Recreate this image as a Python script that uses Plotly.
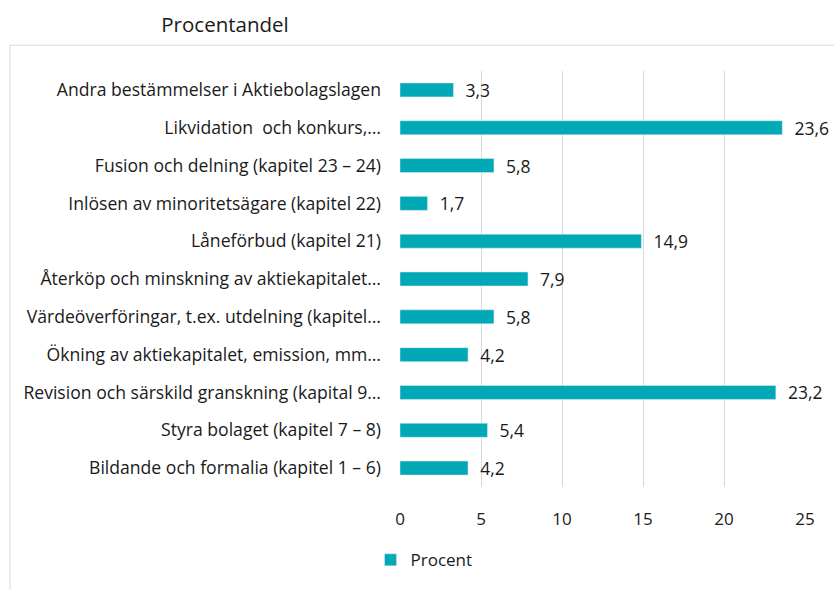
import plotly.graph_objects as go

categories = [
    "Bildande och formalia (kapitel 1 – 6)",
    "Styra bolaget (kapitel 7 – 8)",
    "Revision och särskild granskning (kapital 9…",
    "Ökning av aktiekapitalet, emission, mm…",
    "Värdeöverföringar, t.ex. utdelning (kapitel…",
    "Återköp och minskning av aktiekapitalet…",
    "Låneförbud (kapitel 21)",
    "Inlösen av minoritetsägare (kapitel 22)",
    "Fusion och delning (kapitel 23 – 24)",
    "Likvidation  och konkurs,…",
    "Andra bestämmelser i Aktiebolagslagen",
]
values = [4.2, 5.4, 23.2, 4.2, 5.8, 7.9, 14.9, 1.7, 5.8, 23.6, 3.3]
x_ticks = [0, 5, 10, 15, 20, 25]
series_name = "Procent"
title_text = "Procentandel"

labels = ["\u00a0\u00a0" + f"{v:.1f}".replace(".", ",") for v in values]

FONT = "Open Sans"
TXT = "#1a1a1a"
GRID = "#d9d9d9"
BAR = "#00A9B5"

fig = go.Figure(go.Bar(
    y=categories, x=values, orientation="h", name=series_name,
    marker=dict(color=BAR), width=0.37,
    text=labels, textposition="outside", cliponaxis=False,
    constraintext="none",
    textfont=dict(family=FONT, size=17.5, color=TXT),
    showlegend=True,
))

L, R, T, B = 400, 29, 71, 99
W, H = 834, 590
pw, ph = W - L - R, H - T - B

def px(x):
    return (x - L) / pw

def py(y):
    return (H - B - y) / ph

fig.update_layout(
    width=W, height=H,
    margin=dict(l=L, r=R, t=T, b=B),
    paper_bgcolor="white", plot_bgcolor="white",
    font=dict(family=FONT, size=17, color=TXT),
    title=dict(text=title_text, x=225 / W, xanchor="center",
               y=1 - 25 / H, yanchor="middle",
               font=dict(family=FONT, size=20.5, color=TXT)),
    xaxis=dict(range=[0, 25], tickvals=x_ticks, showgrid=True, gridcolor=GRID,
               gridwidth=1, zeroline=False, showline=False,
               ticklabelstandoff=20, tickfont=dict(size=17, color=TXT)),
    yaxis=dict(showgrid=False, zeroline=False, showline=False,
               ticklabelstandoff=18, tickfont=dict(size=17.6, color=TXT)),
    legend=dict(orientation="h", x=px(424), xanchor="center", y=py(565),
                yanchor="middle", font=dict(size=17, color=TXT)),
    shapes=[dict(type="rect", xref="paper", yref="paper",
                 x0=px(10), x1=px(850), y0=py(600), y1=py(45),
                 line=dict(color=GRID, width=1), layer="below")],
    bargap=0.63,
)

fig.write_html("out.html", config={"displayModeBar": False},
               post_script="document.body.style.margin='0px';")
